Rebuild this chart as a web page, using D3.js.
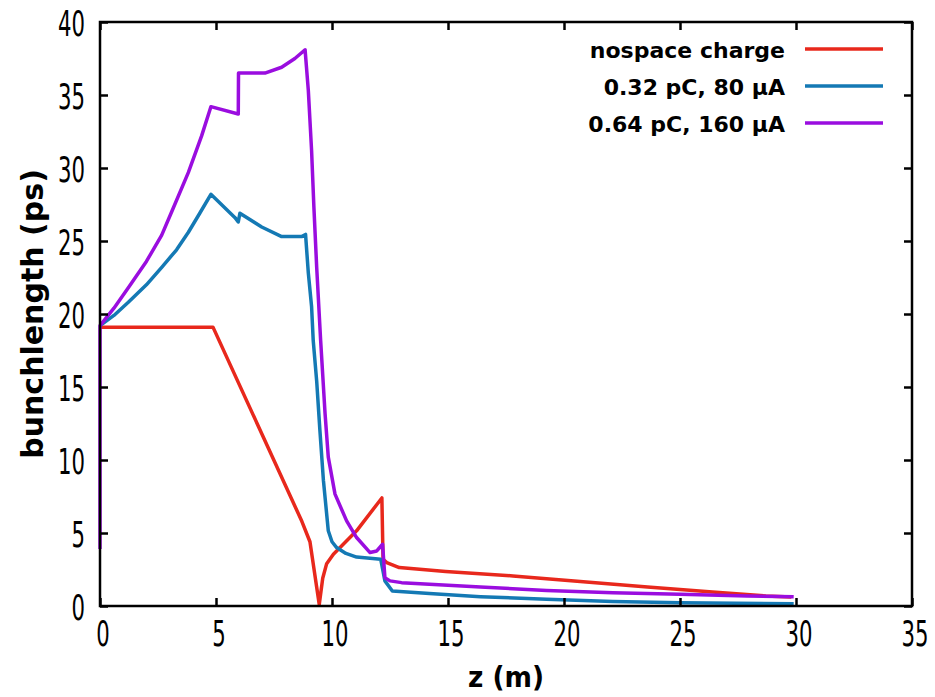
<!DOCTYPE html>
<html>
<head>
<meta charset="utf-8">
<script src="https://cdn.jsdelivr.net/npm/d3@7"></script>
<style>
  body { margin: 0; background: #fff; }
  svg { display: block; }
</style>
</head>
<body>
<svg></svg>
<script>
const width = 935;
const height = 697;
const margin = {top: 22, right: 23, bottom: 91, left: 100};
const innerWidth = width - margin.left - margin.right;
const innerHeight = height - margin.top - margin.bottom;

// series: z (m) and bunch length (ps)
const zNoSpace = [0, 4.87, 8.7, 9.05, 9.45, 9.6, 9.77, 10.06, 11.06, 12.15, 12.2, 12.36, 12.9, 14.9, 17.8, 20.7, 23.6, 26.4, 28.7, 29.8];
const bNoSpace = [19.1, 19.1, 5.8, 4.4, 0.1, 1.9, 2.9, 3.55, 5.15, 7.4, 3.2, 2.97, 2.63, 2.36, 2.06, 1.67, 1.3, 0.96, 0.69, 0.62];

const zLow = [0, 0.6, 1.22, 2.0, 2.66, 3.3, 3.81, 4.3, 4.78, 5.82, 5.96, 6.03, 6.97, 7.83, 8.69, 8.86, 8.98, 9.12, 9.19, 9.34, 9.48, 9.63, 9.84, 10.0, 10.2, 10.6, 11.06, 12.1, 12.28, 12.6, 14.2, 16.4, 19.25, 22.1, 25, 29.9];
const bLow = [19.2, 19.9, 20.8, 22.0, 23.2, 24.4, 25.6, 26.9, 28.2, 26.6, 26.3, 26.9, 25.96, 25.3, 25.3, 25.45, 22.8, 20.5, 18.2, 15.4, 12.0, 8.6, 5.15, 4.4, 4.0, 3.6, 3.35, 3.2, 1.72, 1.03, 0.85, 0.64, 0.46, 0.3, 0.23, 0.16];

const zHigh = [0, 0, 0.6, 1.22, 2.0, 2.66, 3.09, 3.81, 4.38, 4.78, 5.96, 5.97, 7.11, 7.83, 8.4, 8.84, 8.98, 9.12, 9.22, 9.34, 9.51, 9.7, 9.84, 10.13, 10.63, 11.06, 11.64, 11.93, 12.18, 12.28, 12.5, 13.0, 14.2, 16.4, 19.25, 22.1, 25, 27.9, 29.9];
const bHigh = [3.9, 19.2, 20.4, 21.8, 23.6, 25.4, 27.0, 29.7, 32.2, 34.2, 33.7, 36.5, 36.5, 36.9, 37.5, 38.1, 35.3, 31.2, 27.3, 23.2, 18.2, 13.2, 10.2, 7.66, 5.83, 4.69, 3.66, 3.77, 4.23, 1.94, 1.72, 1.6, 1.49, 1.3, 1.07, 0.91, 0.8, 0.69, 0.64];

const seriesNames = ['nospace charge', '0.32 pC, 80 \u00b5A', '0.64 pC, 160 \u00b5A'];
const seriesColors = ['#e8281c', '#1479b4', '#9a0ddf'];
const xTicks = [0, 5, 10, 15, 20, 25, 30, 35];
const yTicks = [0, 5, 10, 15, 20, 25, 30, 35, 40];

const series = [
  zNoSpace.map((z, i) => ({z, b: bNoSpace[i]})),
  zLow.map((z, i) => ({z, b: bLow[i]})),
  zHigh.map((z, i) => ({z, b: bHigh[i]}))
];

const svg = d3.select('svg')
  .attr('width', width)
  .attr('height', height);

// scales map straight to page pixels so every text sits in svg coordinates
const xScale = d3.scaleLinear().domain([0, 35]).range([margin.left, margin.left + innerWidth]);
const yScale = d3.scaleLinear().domain([0, 40]).range([margin.top + innerHeight, margin.top]);

const tickFont = "'DejaVu Sans Condensed', 'DejaVu Sans', sans-serif";
const boldFont = "'DejaVu Sans', Verdana, sans-serif";

// curves
const line = d3.line().x(d => xScale(d.z)).y(d => yScale(d.b));
svg.selectAll('path.curve').data(series)
  .enter().append('path')
    .attr('class', 'curve')
    .attr('d', line)
    .attr('fill', 'none')
    .attr('stroke', (d, i) => seriesColors[i])
    .attr('stroke-width', 3.5)
    .attr('stroke-linejoin', 'round');

// axes: ticks pointing inward on all four sides, labels drawn separately
const styleAxis = sel => {
  sel.select('.domain').remove();
  sel.selectAll('text').remove();
  sel.selectAll('line').attr('stroke', '#000').attr('stroke-width', 2.5);
};

svg.append('g')
  .attr('transform', `translate(0,${margin.top + innerHeight})`)
  .call(d3.axisBottom(xScale).tickValues(xTicks).tickSizeInner(-8).tickSizeOuter(0))
  .call(styleAxis);
svg.append('g')
  .attr('transform', `translate(${margin.left},0)`)
  .call(d3.axisLeft(yScale).tickValues(yTicks).tickSizeInner(-8).tickSizeOuter(0))
  .call(styleAxis);
svg.append('g')
  .attr('transform', `translate(0,${margin.top})`)
  .call(d3.axisTop(xScale).tickValues(xTicks).tickSizeInner(-8).tickSizeOuter(0))
  .call(styleAxis);
svg.append('g')
  .attr('transform', `translate(${margin.left + innerWidth},0)`)
  .call(d3.axisRight(yScale).tickValues(yTicks).tickSizeInner(-8).tickSizeOuter(0))
  .call(styleAxis);

svg.append('rect')
  .attr('x', margin.left)
  .attr('y', margin.top)
  .attr('width', innerWidth)
  .attr('height', innerHeight)
  .attr('fill', 'none')
  .attr('stroke', '#000')
  .attr('stroke-width', 2.5);

// tick labels: tall, narrow digits like the original
const tickText = sel => sel
  .attr('fill', '#000')
  .attr('textLength', d => String(d).length * 13.5)
  .attr('lengthAdjust', 'spacingAndGlyphs')
  .style('font-family', tickFont)
  .style('font-size', '35px')
  .text(d => d);

svg.append('g').selectAll('text').data(xTicks)
  .enter().append('text')
    .attr('x', d => xScale(d) + 3)
    .attr('y', margin.top + innerHeight + 40)
    .attr('text-anchor', 'middle')
    .call(tickText);

svg.append('g').selectAll('text').data(yTicks)
  .enter().append('text')
    .attr('x', margin.left - 15)
    .attr('y', d => yScale(d) + 14)
    .attr('text-anchor', 'end')
    .call(tickText);

// legend
const legendX = margin.left + 685;
const legendY = margin.top + 27;
const rows = svg.append('g').selectAll('g').data(seriesNames)
  .enter().append('g');
rows.append('text')
  .attr('x', legendX)
  .attr('y', (d, i) => legendY + i * 37 + 9)
  .attr('text-anchor', 'end')
  .style('font-family', boldFont)
  .style('font-weight', 'bold')
  .style('font-size', '22px')
  .text(d => d);
rows.append('line')
  .attr('x1', legendX + 20).attr('x2', legendX + 98)
  .attr('y1', (d, i) => legendY + i * 37)
  .attr('y2', (d, i) => legendY + i * 37)
  .attr('stroke', (d, i) => seriesColors[i])
  .attr('stroke-width', 3.5);

// axis titles
svg.append('text')
  .attr('x', margin.left + innerWidth / 2)
  .attr('y', 687)
  .attr('text-anchor', 'middle')
  .attr('textLength', 76)
  .attr('lengthAdjust', 'spacingAndGlyphs')
  .style('font-family', boldFont)
  .style('font-weight', 'bold')
  .style('font-size', '29px')
  .text('z (m)');

svg.append('text')
  .attr('transform', `translate(43,${margin.top + innerHeight / 2}) rotate(-90)`)
  .attr('text-anchor', 'middle')
  .style('font-family', boldFont)
  .style('font-weight', 'bold')
  .style('font-size', '30px')
  .text('bunchlength (ps)');
</script>
</body>
</html>
